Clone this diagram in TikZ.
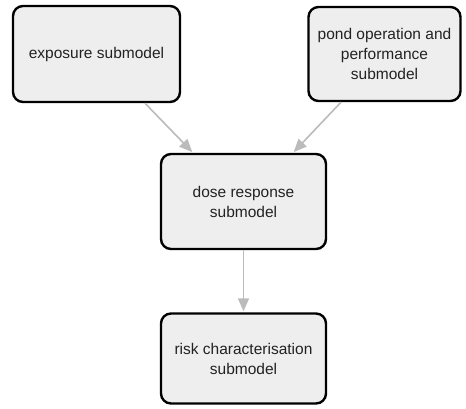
\documentclass[tikz,border=0pt]{standalone}
\usepackage{fontspec}
\setmainfont{Liberation Sans}
\usetikzlibrary{arrows.meta}
\definecolor{boxfill}{HTML}{EEEEEE}
\definecolor{arrowgray}{HTML}{BBBBBB}
\definecolor{textcol}{HTML}{222222}
\tikzset{
  box/.style={draw=black, line width=2.4pt, fill=boxfill, rounded corners=10pt,
    align=center, inner sep=0pt, text=textcol, font=\fontsize{15.5}{20}\selectfont},
  link/.style={draw=arrowgray, line width=1.6pt,
    -{Triangle[length=13pt,width=11pt,fill=arrowgray]}, shorten >=1pt}
}
\begin{document}
\begin{tikzpicture}[x=1pt,y=-1pt]
\useasboundingbox (0,0) rectangle (466,408);
\node[box, minimum width=167pt, minimum height=96pt] (exp) at (96.5,54) {exposure submodel};
\node[box, minimum width=152pt, minimum height=94pt] (pond) at (384.5,54) {pond operation and\\performance\\submodel};
\node[box, minimum width=165pt, minimum height=95pt] (dose) at (243.5,201.5) {dose response\\submodel};
\node[box, minimum width=165pt, minimum height=90pt] (risk) at (243.5,358.5) {risk characterisation\\submodel};
\draw[link] ([xshift=48.5pt]exp.south) -- ([xshift=-50.5pt]dose.north);
\draw[link] ([xshift=-43.5pt]pond.south) -- ([xshift=49.5pt]dose.north);
\draw[link] (dose.south) -- (risk.north);
\end{tikzpicture}
\end{document}
